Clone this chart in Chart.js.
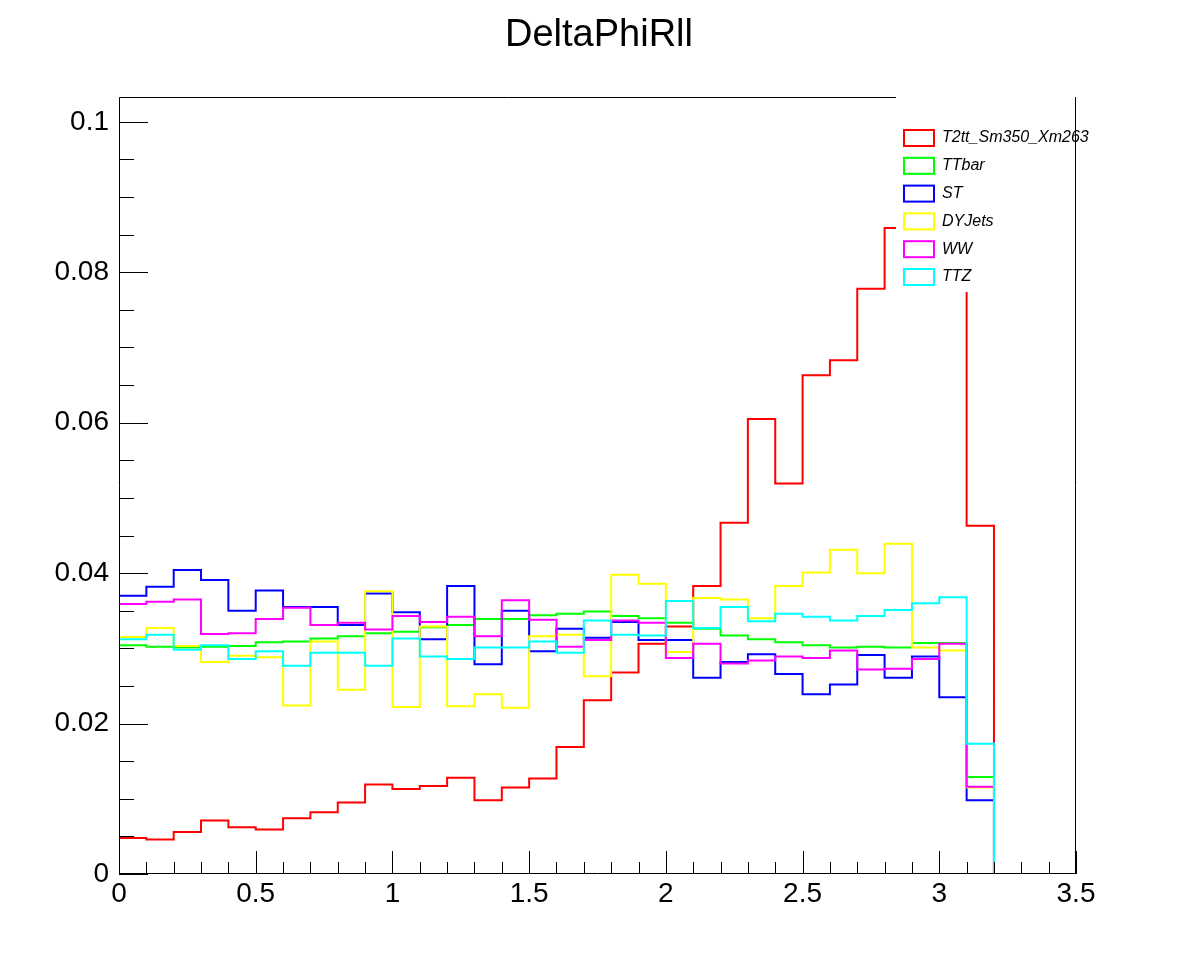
<!DOCTYPE html>
<html><head><meta charset="utf-8">
<script src="https://cdn.jsdelivr.net/npm/chart.js@4"></script>
<style>html,body{margin:0;padding:0;background:#fff}#c{display:block}</style>
</head><body>
<div style="width:1196px;height:972px"><canvas id="c"></canvas></div>
<script>
const binEdges=[0,0.1,0.2,0.3,0.4,0.5,0.6,0.7,0.8,0.9,1.0,1.1,1.2,1.3,1.4,1.5,1.6,1.7,1.8,1.9,2.0,2.1,2.2,2.3,2.4,2.5,2.6,2.7,2.8,2.9,3.0,3.1,3.2,3.3,3.4,3.5];
const seriesNames=["T2tt_Sm350_Xm263","TTbar","ST","DYJets","WW","TTZ"];
const seriesColors=["#ff0000","#00ff00","#0000ff","#ffff00","#ff00ff","#00ffff"];
const t2tt=[0.0048,0.0046,0.0056,0.0071,0.0062,0.0059,0.0074,0.0082,0.0095,0.0119,0.0113,0.0117,0.0128,0.0098,0.0115,0.0127,0.0169,0.0231,0.0268,0.0306,0.0329,0.0383,0.0467,0.0605,0.0519,0.0663,0.0683,0.0778,0.0859,0.094,0.083,0.0463,0,0,0];
const ttbar=[0.0304,0.0302,0.0301,0.0302,0.0303,0.0308,0.0309,0.0313,0.0316,0.0320,0.0322,0.0328,0.0331,0.0339,0.0339,0.0344,0.0346,0.0349,0.0343,0.0340,0.0334,0.0326,0.0317,0.0312,0.0308,0.0304,0.0301,0.0302,0.0301,0.0307,0.0307,0.0129,0,0,0];
const st=[0.0370,0.0382,0.0404,0.0391,0.0350,0.0377,0.0355,0.0355,0.0331,0.0373,0.0348,0.0312,0.0383,0.0279,0.0350,0.0296,0.0326,0.0314,0.0335,0.0311,0.0311,0.0261,0.0282,0.0292,0.0266,0.0239,0.0252,0.0291,0.0261,0.0289,0.0235,0.0098,0,0,0];
const dyjets=[0.0315,0.0327,0.0303,0.0282,0.0290,0.0288,0.0224,0.0309,0.0245,0.0376,0.0222,0.0329,0.0223,0.0239,0.0221,0.0316,0.0318,0.0263,0.0398,0.0386,0.0295,0.0367,0.0365,0.0340,0.0383,0.0401,0.0431,0.0400,0.0439,0.0301,0.0297,0.0115,0,0,0];
const ww=[0.0359,0.0362,0.0365,0.0319,0.0320,0.0339,0.0354,0.0331,0.0334,0.0325,0.0343,0.0335,0.0342,0.0316,0.0364,0.0338,0.0302,0.0311,0.0337,0.0334,0.0287,0.0306,0.0280,0.0284,0.0289,0.0287,0.0297,0.0272,0.0273,0.0286,0.0306,0.0116,0,0,0];
const ttz=[0.0312,0.0318,0.0298,0.0304,0.0286,0.0296,0.0277,0.0294,0.0294,0.0277,0.0313,0.0289,0.0286,0.0301,0.0301,0.0309,0.0294,0.0337,0.0318,0.0317,0.0363,0.0327,0.0355,0.0336,0.0346,0.0342,0.0337,0.0343,0.0351,0.0360,0.0368,0.0173,0,0,0];
const yTickLabels=[0,0.02,0.04,0.06,0.08,0.1];
const xTickLabels=[0,0.5,1,1.5,2,2.5,3,3.5];
const allSeries=[t2tt,ttbar,st,dyjets,ww,ttz];

function pts(v){const p=v.map((y,i)=>({x:binEdges[i],y}));p.push({x:binEdges[binEdges.length-1],y:v[v.length-1]});return p;}
const datasets=allSeries.map((v,i)=>({label:seriesNames[i],data:pts(v),borderColor:seriesColors[i],borderWidth:2,stepped:'before',pointRadius:0,fill:false,tension:0}));
datasets.reverse();

const font='Liberation Sans, Arial, sans-serif';
const deco={id:'deco',
 beforeDraw(c){const x=c.ctx;x.save();x.fillStyle='#fff';x.fillRect(0,0,c.width,c.height);x.restore();},
 afterDatasetsDraw(c){
  const ctx=c.ctx,xs=c.scales.x,ys=c.scales.y;const a=c.chartArea;
  ctx.save();
  ctx.fillStyle='#fff';ctx.fillRect(896,90,176,202);
  ctx.strokeStyle='#000';ctx.lineWidth=1;
  ctx.beginPath();
  ctx.moveTo(a.left+0.5,a.bottom);ctx.lineTo(a.left+0.5,a.top+0.5);ctx.lineTo(896,a.top+0.5);
  ctx.moveTo(a.right-0.5,a.top);ctx.lineTo(a.right-0.5,a.bottom);
  ctx.moveTo(a.left,a.bottom-0.5);ctx.lineTo(a.right,a.bottom-0.5);
  for(let i=0;i<=35;i++){const v=i/10;const px=Math.round(xs.getPixelForValue(v))+0.5;const len=(i%5===0)?23:12;ctx.moveTo(px,a.bottom);ctx.lineTo(px,a.bottom-len);}
  for(let i=0;i<=20;i++){const v=i*0.005;const py=Math.round(ys.getPixelForValue(v))+0.5;const len=(i%4===0)?29:15;ctx.moveTo(a.left,py);ctx.lineTo(a.left+len,py);}
  ctx.stroke();
  ctx.fillStyle='#000';ctx.font='28px '+font;
  ctx.textAlign='right';ctx.textBaseline='middle';
  yTickLabels.forEach(v=>ctx.fillText(String(v),a.left-10,ys.getPixelForValue(v)));
  ctx.textAlign='center';ctx.textBaseline='top';
  xTickLabels.forEach(v=>ctx.fillText(String(v),xs.getPixelForValue(v),880));
  ctx.font='38px '+font;ctx.textBaseline='middle';ctx.fillText('DeltaPhiRll',599,36);
  ctx.font='italic 16px '+font;ctx.textAlign='left';
  seriesNames.forEach((n,i)=>{const y=138+i*27.8;ctx.strokeStyle=seriesColors[i];ctx.lineWidth=2;ctx.strokeRect(904,y-8,30,16);ctx.fillStyle='#000';ctx.fillText(n,942,y);});
  ctx.restore();
 }};

new Chart(document.getElementById('c'),{type:'line',data:{datasets},
 options:{responsive:true,maintainAspectRatio:false,animation:false,
  layout:{padding:{left:119,right:120,top:97,bottom:98}},
  plugins:{legend:{display:false},tooltip:{enabled:false}},
  scales:{x:{type:'linear',min:0,max:3.5,display:false},y:{min:0,max:0.1033,display:false}}},
 plugins:[deco]});
</script></body></html>
